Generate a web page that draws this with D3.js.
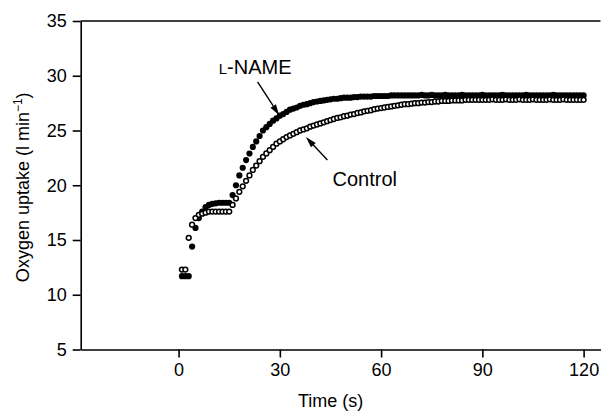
<!DOCTYPE html>
<html>
<head>
<meta charset="utf-8">
<script src="https://cdn.jsdelivr.net/npm/d3@7"></script>
<style>
body { margin: 0; background: #fff; }
text { font-family: "Liberation Sans", Arial, sans-serif; fill: #000; }
</style>
</head>
<body>
<div id="chart"></div>
<script>
// sample times (s), one breath average per second
var time = [1,2,3,4,5,6,7,8,9,10,11,12,13,14,15,16,17,18,19,20,
  21,22,23,24,25,26,27,28,29,30,31,32,33,34,35,36,37,38,39,40,
  41,42,43,44,45,46,47,48,49,50,51,52,53,54,55,56,57,58,59,60,
  61,62,63,64,65,66,67,68,69,70,71,72,73,74,75,76,77,78,79,80,
  81,82,83,84,85,86,87,88,89,90,91,92,93,94,95,96,97,98,99,100,
  101,102,103,104,105,106,107,108,109,110,111,112,113,114,115,116,117,118,119,120];

// L-NAME (filled circles)
var lname = [11.7,11.7,11.7,14.4,16.1,17.0,17.6,18.0,18.2,18.3,
  18.35,18.4,18.4,18.4,18.4,19.1,20.0,20.9,21.6,22.3,
  22.9,23.5,24.0,24.5,25.0,25.3,25.6,25.9,26.1,26.35,
  26.5,26.7,26.9,27.0,27.1,27.25,27.35,27.4,27.5,27.6,
  27.65,27.7,27.75,27.8,27.85,27.9,27.9,27.95,28.0,28.0,
  28.0,28.05,28.05,28.1,28.1,28.1,28.1,28.15,28.15,28.15,
  28.15,28.15,28.2,28.2,28.2,28.2,28.2,28.2,28.2,28.2,
  28.2,28.25,28.2,28.2,28.25,28.2,28.2,28.2,28.25,28.2,
  28.2,28.2,28.2,28.25,28.2,28.2,28.2,28.2,28.2,28.25,
  28.2,28.2,28.2,28.2,28.2,28.25,28.2,28.2,28.2,28.2,
  28.2,28.2,28.25,28.2,28.2,28.2,28.2,28.2,28.2,28.2,
  28.25,28.2,28.2,28.2,28.2,28.2,28.2,28.2,28.2,28.2];

// Control (open circles)
var control = [12.3,12.3,15.2,16.4,17.0,17.3,17.4,17.5,17.6,17.6,
  17.6,17.6,17.6,17.6,17.6,18.2,18.8,19.4,19.9,20.4,
  20.9,21.4,21.8,22.2,22.6,22.9,23.2,23.5,23.8,24.0,
  24.2,24.4,24.55,24.7,24.85,25.0,25.1,25.2,25.35,25.45,
  25.55,25.65,25.75,25.85,25.95,26.05,26.15,26.2,26.3,26.35,
  26.45,26.5,26.6,26.65,26.75,26.8,26.85,26.95,27.0,27.05,
  27.1,27.15,27.2,27.25,27.3,27.35,27.4,27.4,27.45,27.5,
  27.5,27.55,27.55,27.6,27.6,27.65,27.65,27.7,27.7,27.7,
  27.75,27.75,27.75,27.75,27.8,27.8,27.8,27.8,27.8,27.8,
  27.8,27.8,27.85,27.8,27.8,27.8,27.85,27.8,27.8,27.8,
  27.85,27.8,27.8,27.8,27.85,27.8,27.8,27.8,27.8,27.85,
  27.8,27.8,27.8,27.85,27.8,27.8,27.8,27.8,27.8,27.8];

var xTicks = [0, 30, 60, 90, 120];
var yTicks = [5, 10, 15, 20, 25, 30, 35];

var W = 609, H = 413;
var svg = d3.select("#chart")
  .append("svg")
  .attr("width", W)
  .attr("height", H);

var x = d3.scaleLinear().domain([-29, 125]).range([80.7, 600.5]);
var y = d3.scaleLinear().domain([5, 35]).range([349.5, 21]);

// axes
var xAxis = svg.append("g")
  .attr("transform", "translate(0," + y(5) + ")")
  .call(d3.axisBottom(x).tickValues(xTicks).tickSize(8).tickPadding(6).tickSizeOuter(0));
var yAxis = svg.append("g")
  .attr("transform", "translate(" + x(-29) + ",0)")
  .call(d3.axisLeft(y).tickValues(yTicks).tickSize(8).tickPadding(6).tickSizeOuter(0));
// top line at 35
svg.append("line")
  .attr("x1", x(-29)).attr("x2", x(125))
  .attr("y1", y(35)).attr("y2", y(35))
  .attr("stroke", "#000").attr("stroke-width", 1.6);

[xAxis, yAxis].forEach(function (a) {
  a.selectAll("path, line").attr("stroke", "#000").attr("stroke-width", 1.6);
  a.selectAll("text").style("font-size", "18px").attr("fill", "#000")
    .style("font-family", "'Liberation Sans', Arial, sans-serif");
});

// axis titles
svg.append("text")
  .attr("x", (x(-29) + x(125)) / 2 - 10)
  .attr("y", 407)
  .attr("text-anchor", "middle")
  .style("font-size", "18px")
  .text("Time (s)");

var yl = svg.append("text")
  .attr("transform", "translate(29," + (y(20) + 2) + ") rotate(-90)")
  .attr("text-anchor", "middle")
  .style("font-size", "18px");
yl.append("tspan").text("Oxygen uptake (l min");
yl.append("tspan").attr("dy", -7).style("font-size", "12px").text("\u22121");
yl.append("tspan").attr("dy", 7).text(")");

// data
var dLname = time.map(function (t, i) { return { t: t, v: lname[i] }; });
var dControl = time.map(function (t, i) { return { t: t, v: control[i] }; });

svg.selectAll(".lname").data(dLname).enter()
  .append("circle")
  .attr("class", "lname")
  .attr("cx", function (d) { return x(d.t); })
  .attr("cy", function (d) { return y(d.v); })
  .attr("r", 3.1)
  .attr("fill", "#000");

svg.selectAll(".control").data(dControl).enter()
  .append("circle")
  .attr("class", "control")
  .attr("cx", function (d) { return x(d.t); })
  .attr("cy", function (d) { return y(d.v); })
  .attr("r", 2.4)
  .attr("fill", "#fff")
  .attr("stroke", "#000")
  .attr("stroke-width", 1.5);

// annotations
function arrow(t0, v0, t1, v1) {
  var x0 = x(t0), y0 = y(v0), x1 = x(t1), y1 = y(v1);
  var a = Math.atan2(y1 - y0, x1 - x0);
  var len = 11, hw = 3.2;
  var bx = x1 - len * Math.cos(a), by = y1 - len * Math.sin(a);
  svg.append("line")
    .attr("x1", x0).attr("y1", y0).attr("x2", bx).attr("y2", by)
    .attr("stroke", "#000").attr("stroke-width", 1.4);
  svg.append("path")
    .attr("d", "M" + x1 + "," + y1 +
      "L" + (bx + hw * Math.sin(a)) + "," + (by - hw * Math.cos(a)) +
      "L" + (bx - hw * Math.sin(a)) + "," + (by + hw * Math.cos(a)) + "Z")
    .attr("fill", "#000");
}

var lab1 = svg.append("text")
  .attr("x", x(11.9)).attr("y", y(30.15))
  .style("font-size", "20px");
lab1.append("tspan").style("font-size", "15px").text("L");
lab1.append("tspan").text("-NAME");
arrow(23.4, 29.45, 29.8, 26.4);

svg.append("text")
  .attr("x", x(45.6)).attr("y", y(19.95))
  .style("font-size", "20px")
  .text("Control");
arrow(44.1, 22.3, 37.7, 24.4);
</script>
</body>
</html>
